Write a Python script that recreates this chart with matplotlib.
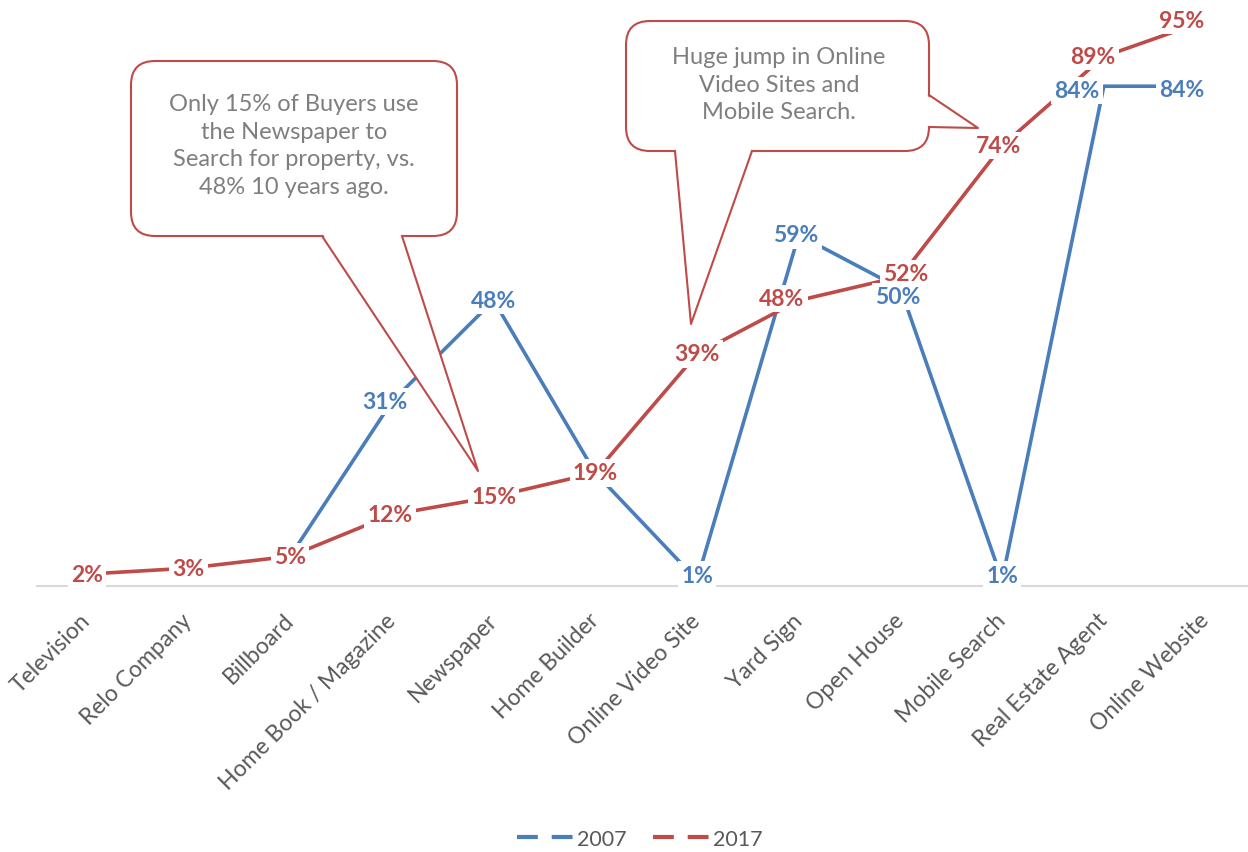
import numpy as np
import matplotlib.pyplot as plt
import matplotlib.transforms as mtransforms
from matplotlib.patches import FancyBboxPatch, Polygon
from matplotlib.lines import Line2D

plt.rcParams['font.family'] = ['Lato', 'DejaVu Sans']
plt.rcParams['lines.scale_dashes'] = False

#data
categories = ['Television', 'Relo Company', 'Billboard', 'Home Book / Magazine', 'Newspaper',
              'Home Builder', 'Online Video Site', 'Yard Sign', 'Open House', 'Mobile Search',
              'Real Estate Agent', 'Online Website']
vals_2007 = [np.nan, np.nan, 5, 31, 48, 19, 1, 59, 50, 1, 84, 84]
vals_2017 = [2, 3, 5, 12, 15, 19, 39, 48, 52, 74, 89, 95]

#label nudges in pixels (None = label hidden behind the other series)
off_2007 = [None, None, None, (-7, 0), (0, 0), None, (0, 5), (-3, 0), (-3, -8), (0, 5), (-27, -4), (-24, -3)]
off_2017 = [(0, 0), (0, 0), (0, 0), (-2, 0), (0, 0), (0, 0), (0, 0), (-17, 2), (5, 3), (-4, 0), (-11, 0), (-24, 0)]

blue = '#4a7ebb'
red = '#be4b48'
grey_txt = '#595959'

W, H = 1248, 853
fig = plt.figure(figsize=(W/100, H/100), dpi=100)
ax = fig.add_axes([37/W, 1-587/H, 1220.4/W, 587/H])
x = np.arange(len(categories))

ax.plot(x, vals_2007, color=blue, lw=2.6, solid_capstyle='butt', zorder=2)
ax.plot(x, vals_2017, color=red, lw=2.6, solid_capstyle='butt', zorder=3)

for vals, offs, c, z in ((vals_2007, off_2007, blue, 5.5), (vals_2017, off_2017, red, 5)):
    for i, (v, o) in enumerate(zip(vals, offs)):
        if o is None or np.isnan(v):
            continue
        ax.annotate('{:.0f}%'.format(v), (i, v), xytext=o, textcoords='offset pixels',
                    ha='center', va='center', fontsize=16.5, fontweight='bold', color=c,
                    bbox=dict(boxstyle='square,pad=0.14', fc='white', ec='none'),
                    zorder=z, annotation_clip=False)

ax.set_xlim(-0.49, 11.51)
ax.set_ylim(0, 98.66)
for s in ['top', 'right', 'left']:
    ax.spines[s].set_visible(False)
ax.spines['bottom'].set_color('#d9d9d9')
ax.spines['bottom'].set_linewidth(1.5)
ax.spines['bottom'].set_zorder(1)
ax.set_yticks([])
ax.set_xticks(x)
ax.set_xticklabels(categories, rotation=45, ha='right', va='center', rotation_mode='anchor',
                   fontsize=16.5, color=grey_txt)
ax.tick_params(axis='x', length=0, pad=22)

#legend
handles = [Line2D([], [], color=blue, lw=3, dashes=(15, 10)),
           Line2D([], [], color=red, lw=3, dashes=(15, 10))]
fig.legend(handles, ['2007', '2017'], loc='center', bbox_to_anchor=(640/W, 1-840/H), ncol=2,
           frameon=False, fontsize=15.5, handlelength=2.6, handletextpad=0.2, columnspacing=1.2,
           labelcolor=grey_txt)

#callouts drawn in pixel space (origin top-left)
px = mtransforms.Affine2D().scale(1/W, -1/H).translate(0, 1) + fig.transFigure

def callout(x0, y0, x1, y1, tails, text, cx, cy):
    box = FancyBboxPatch((x0, y0), x1-x0, y1-y0, boxstyle='round,pad=0,rounding_size=24',
                         transform=px, fc='white', ec=red, lw=1.5, zorder=6)
    fig.add_artist(box)
    for (a, tip, b, inset) in tails:
        a_in = (a[0]+inset[0], a[1]+inset[1])
        b_in = (b[0]+inset[0], b[1]+inset[1])
        fig.add_artist(Polygon([a_in, tip, b_in], closed=True, transform=px,
                               fc='white', ec='none', zorder=7))
        fig.add_artist(Line2D([a[0], tip[0], b[0]], [a[1], tip[1], b[1]], transform=px,
                              color=red, lw=1.5, zorder=8))
    fig.text(cx/W, 1-cy/H, text, ha='center', va='center', fontsize=17, color='#7f7f7f',
             linespacing=1.38, zorder=9)

callout(131, 62, 457, 237,
        [((322, 237), (478, 472), (402, 237), (0, -3))],
        'Only 15% of Buyers use\nthe Newspaper to\nSearch for property, vs.\n48% 10 years ago.',
        294, 146)
callout(626, 22, 929, 152,
        [((675, 152), (691, 325), (752, 152), (0, -3)),
         ((929, 96), (978, 129), (929, 128), (-3, 0))],
        'Huge jump in Online\nVideo Sites and\nMobile Search.',
        779, 85)

fig.savefig('out.png', dpi=100)
